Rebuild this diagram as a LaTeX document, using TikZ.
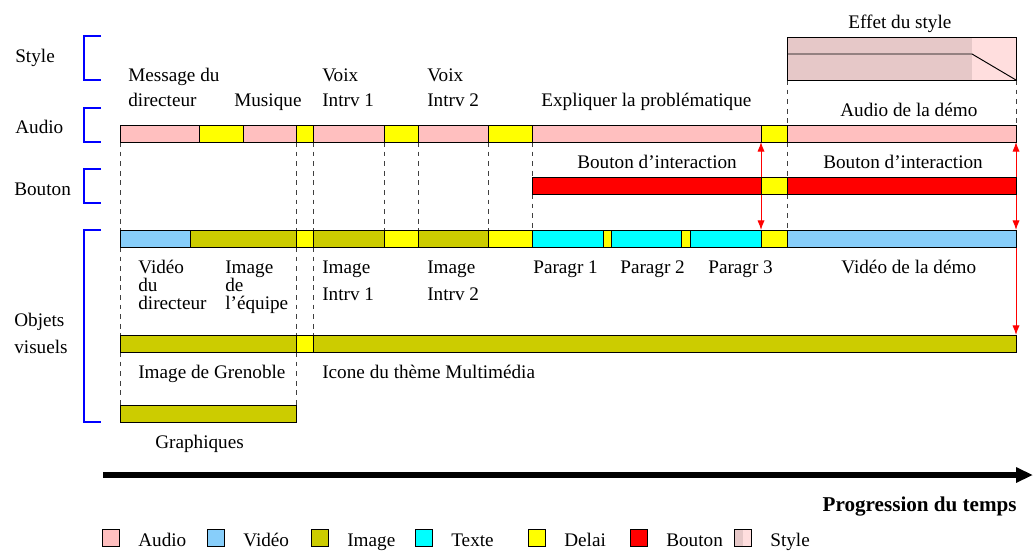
\documentclass[tikz,border=0pt]{standalone}
\usepackage{fontspec}
\setmainfont{Liberation Serif}
\usetikzlibrary{arrows.meta}

\definecolor{audiocol}{RGB}{255,191,191}
\definecolor{videocol}{RGB}{135,206,250}
\definecolor{imagecol}{RGB}{204,204,0}
\definecolor{textcol}{RGB}{0,255,255}
\definecolor{delaicol}{RGB}{255,255,0}
\definecolor{boutoncol}{RGB}{255,0,0}
\definecolor{styledark}{RGB}{230,200,200}
\definecolor{stylelight}{RGB}{255,222,222}

\begin{document}
\begin{tikzpicture}[x=0.625pt,y=-0.625pt,
	seg/.style={draw=black,line width=0.6pt},
	guide/.style={black!75,line width=0.6pt,dash pattern=on 3pt off 3pt},
	brk/.style={blue,line width=1.2pt},
	lbl/.style={anchor=base west,inner sep=0pt,font=\fontsize{12}{14}\selectfont},
	link/.style={red,line width=0.6pt,>={Latex[length=6pt,width=4.5pt]}}]
	\useasboundingbox (0,0) rectangle (1033,551);
	% rows
	\node[lbl] (rstyle) at (15,62) {Style};
	\node[lbl] (raudio) at (15,133) {Audio};
	\node[lbl] (rbouton) at (14,195) {Bouton};
	\node[lbl] (robjets) at (14,326) {Objets};
	\node[lbl] (rvisuels) at (14,353) {visuels};
	\draw[brk] (101,36) -- (84,36) -- (84,80) -- (101,80);
	\draw[brk] (101,108) -- (84,108) -- (84,142) -- (101,142);
	\draw[brk] (101,169) -- (84,169) -- (84,203) -- (101,203);
	\draw[brk] (101,230) -- (84,230) -- (84,422) -- (101,422);
	% guides
	\foreach \x/\a/\b in {120/142/230,120/247/335,120/352/405,296/142/230,296/247/335,296/352/405,
		313/142/230,313/247/335,384/142/230,418/142/230,488/142/230,532/142/177,532/194/230,
		787/80/125,787/142/177,787/194/230,1016/80/125}
		\draw[guide] (\x,\a) -- (\x,\b);
	% links
	\coordinate (la) at (761,142);
	\coordinate (lb) at (761,230);
	\coordinate (ra) at (1016,142);
	\coordinate (rb) at (1016,230);
	\coordinate (rc) at (1016,247);
	\coordinate (rd) at (1016,335);
	\draw[link,<->] (la) -- (lb);
	\draw[link,<->] (ra) -- (rb);
	\draw[link,->] (rc) -- (rd);
	% style
	\fill[styledark] (787,37) rectangle (972,80);
	\fill[stylelight] (972,37) rectangle (1016,80);
	\draw[line width=0.6pt] (787,37) rectangle (1016,80);
	\draw[line width=0.6pt] (787,54) -- (972,54) -- (1016,80);
	\node[lbl] (effet) at (848,28) {Effet du style};
	% audio
	\foreach \a/\b/\c in {120/199/audiocol,199/243/delaicol,243/296/audiocol,296/313/delaicol,
		313/384/audiocol,384/418/delaicol,418/488/audiocol,488/532/delaicol,532/761/audiocol,
		761/787/delaicol,787/1016/audiocol}
		\filldraw[seg,fill=\c] (\a,125) rectangle (\b,142);
	\node[lbl] (msg1) at (128,81) {Message du};
	\node[lbl] (msg2) at (128,106) {directeur};
	\node[lbl] (musique) at (234,106) {Musique};
	\node[lbl] (voix1a) at (322,81) {Voix};
	\node[lbl] (voix1b) at (322,106) {Intrv 1};
	\node[lbl] (voix2a) at (427,81) {Voix};
	\node[lbl] (voix2b) at (427,106) {Intrv 2};
	\node[lbl] (expl) at (541,106) {Expliquer la problématique};
	\node[lbl] (audemo) at (840,116) {Audio de la démo};
	% bouton
	\foreach \a/\b/\c in {532/761/boutoncol,761/787/delaicol,787/1016/boutoncol}
		\filldraw[seg,fill=\c] (\a,177) rectangle (\b,194);
	\node[lbl] (bout1) at (577,168) {Bouton d'interaction};
	\node[lbl] (bout2) at (823,168) {Bouton d'interaction};
	% objets visuels
	\foreach \a/\b/\c in {120/190/videocol,190/296/imagecol,296/313/delaicol,313/384/imagecol,
		384/418/delaicol,418/488/imagecol,488/532/delaicol,532/603/textcol,603/611/delaicol,
		611/681/textcol,681/690/delaicol,690/761/textcol,761/787/delaicol,787/1016/videocol}
		\filldraw[seg,fill=\c] (\a,230) rectangle (\b,247);
	\node[lbl] (vid1) at (138,273) {Vidéo};
	\node[lbl] (vid2) at (138,291) {du};
	\node[lbl] (vid3) at (138,309) {directeur};
	\node[lbl] (eq1) at (225,273) {Image};
	\node[lbl] (eq2) at (225,291) {de};
	\node[lbl] (eq3) at (225,309) {l'équipe};
	\node[lbl] (im1a) at (322,273) {Image};
	\node[lbl] (im1b) at (322,300) {Intrv 1};
	\node[lbl] (im2a) at (427,273) {Image};
	\node[lbl] (im2b) at (427,300) {Intrv 2};
	\node[lbl] (par1) at (533,273) {Paragr 1};
	\node[lbl] (par2) at (620,273) {Paragr 2};
	\node[lbl] (par3) at (708,273) {Paragr 3};
	\node[lbl] (viddemo) at (841,273) {Vidéo de la démo};
	\foreach \a/\b/\c in {120/296/imagecol,296/313/delaicol,313/1016/imagecol}
		\filldraw[seg,fill=\c] (\a,335) rectangle (\b,352);
	\node[lbl] (greno) at (138,378) {Image de Grenoble};
	\node[lbl] (icone) at (322,378) {Icone du thème Multimédia};
	\filldraw[seg,fill=imagecol] (120,405) rectangle (296,422);
	\node[lbl] (graph) at (155,448) {Graphiques};
	% temps
	\coordinate (t0) at (103,475);
	\coordinate (t1) at (1033,475);
	\draw[line width=3.5pt,-{Triangle[length=10.5pt,width=9pt]}] (t0) -- (t1);
	\node[lbl,anchor=base east,font=\fontsize{13.2}{15}\selectfont\bfseries] (temps) at (1017,511) {Progression du temps};
	% legende
	\foreach \x/\c/\t in {102/audiocol/Audio,207/videocol/Vidéo,311/imagecol/Image,415/textcol/Texte,
		528/delaicol/Delai,630/boutoncol/Bouton}{
		\filldraw[seg,fill=\c] (\x,529) rectangle (\x+17,546);
		\node[lbl] (leg\t) at (\x+36,546) {\t};
	}
	\fill[styledark] (734,529) rectangle (743,546);
	\fill[stylelight] (743,529) rectangle (751,546);
	\draw[seg] (734,529) rectangle (751,546);
	\node[lbl] (legStyle) at (770,546) {Style};
\end{tikzpicture}
\end{document}
